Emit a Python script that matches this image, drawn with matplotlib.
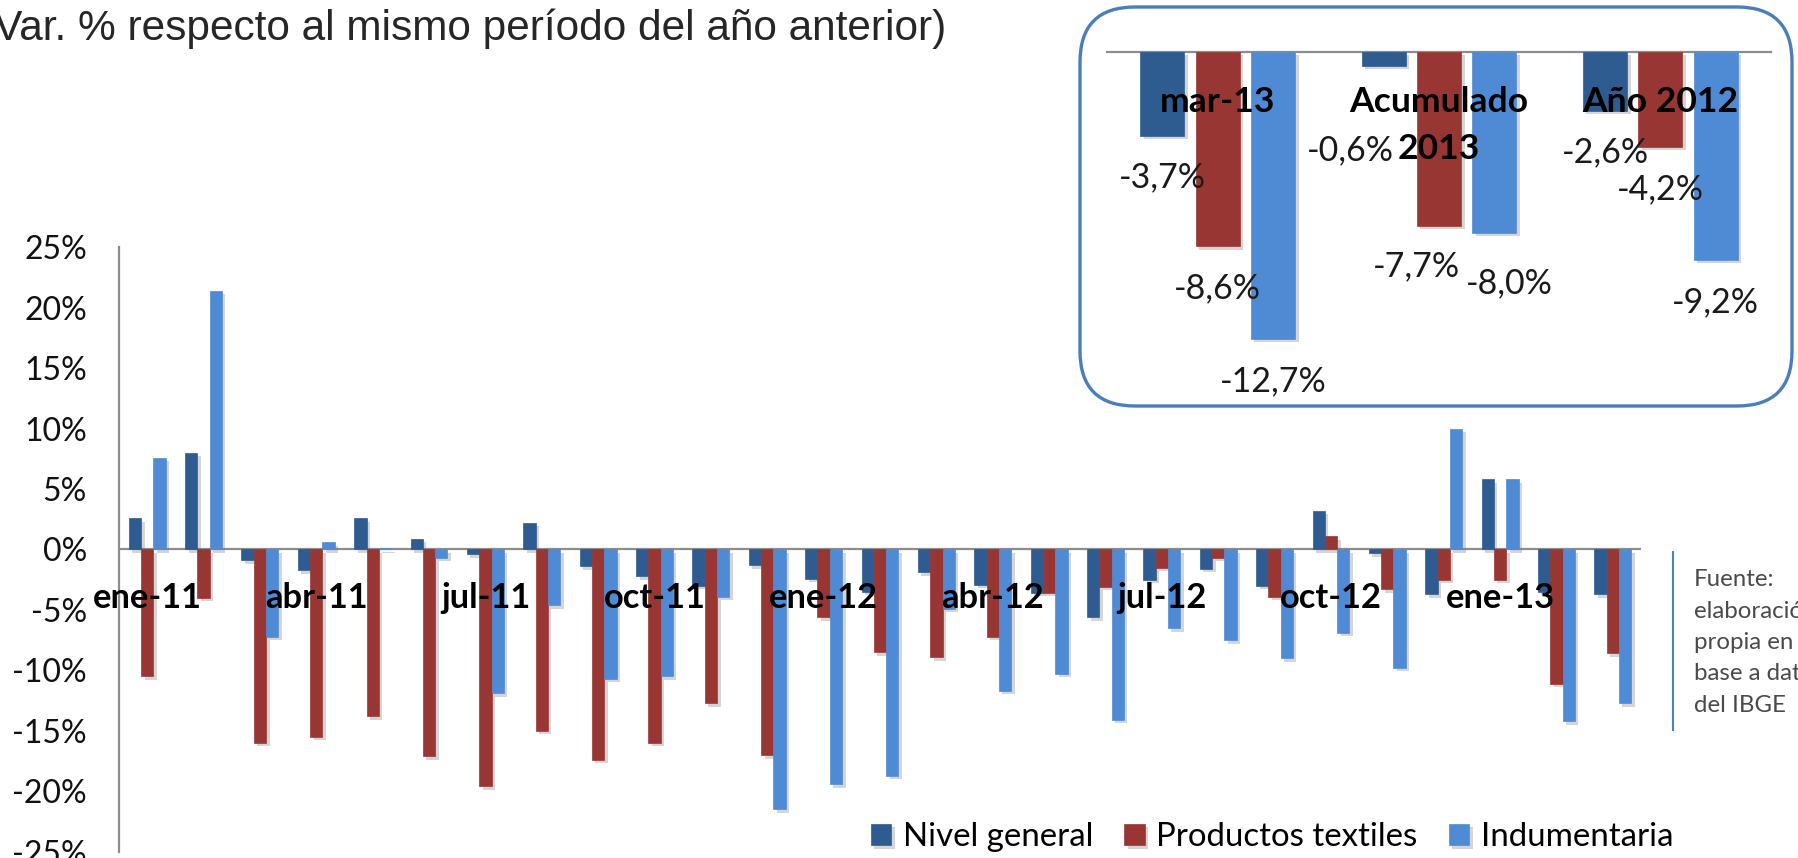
import matplotlib
matplotlib.use("Agg")
import matplotlib.pyplot as plt
from matplotlib.patches import FancyBboxPatch
from matplotlib.lines import Line2D
import matplotlib.patheffects as pe
import numpy as np

# ---------------- data ----------------
months = ["ene-11", "feb-11", "mar-11", "abr-11", "may-11", "jun-11", "jul-11",
          "ago-11", "sep-11", "oct-11", "nov-11", "dic-11", "ene-12", "feb-12",
          "mar-12", "abr-12", "may-12", "jun-12", "jul-12", "ago-12", "sep-12",
          "oct-12", "nov-12", "dic-12", "ene-13", "feb-13", "mar-13"]
nivel_general = [2.6, 8.0, -0.9, -1.7, 2.6, 0.9, -0.4, 2.2, -1.4, -2.2, -3.0, -1.3,
                 -2.4, -3.5, -1.9, -2.9, -3.6, -5.6, -2.5, -1.6, -3.0, 3.2, -0.3,
                 -3.7, 5.8, -3.5, -3.7]
productos_textiles = [-10.5, -4.0, -16.0, -15.5, -13.8, -17.1, -19.6, -15.0, -17.4,
                      -16.0, -12.7, -17.0, -5.6, -8.5, -8.9, -7.2, -3.6, -3.1, -1.5,
                      -0.7, -3.9, 1.1, -3.3, -2.5, -2.5, -11.1, -8.6]
indumentaria = [7.6, 21.4, -7.2, 0.6, 0.1, -0.7, -11.9, -4.6, -10.7, -10.5, -3.9,
                -21.5, -19.4, -18.7, -4.9, -11.7, -10.3, -14.1, -6.5, -7.5, -9.0,
                -6.9, -9.8, 10.0, 5.8, -14.2, -12.7]
series_names = ["Nivel general", "Productos textiles", "Indumentaria"]
yticks = [25, 20, 15, 10, 5, 0, -5, -10, -15, -20, -25]
label_every = 3

inset_categories = ["mar-13", "Acumulado\n2013", "Año 2012"]
inset_nivel = [-3.7, -0.6, -2.6]
inset_textiles = [-8.6, -7.7, -4.2]
inset_indumentaria = [-12.7, -8.0, -9.2]

title = "(Var. % respecto al mismo período del año anterior)"
source_lines = ["Fuente:", "elaboración", "propia en", "base a datos", "del IBGE"]

# ---------------- style ----------------
colors = ["#2E5B90", "#983634", "#4F8BD5"]
axis_grey = "#8C8C8C"
FONT = ["Lato", "DejaVu Sans"]
plt.rcParams["font.family"] = FONT

W, H = 1798, 858
fig = plt.figure(figsize=(W / 100, H / 100), dpi=100)
fig.patch.set_facecolor("white")

def pt(px):
    return px * 72.0 / 100.0

shadow = [pe.SimplePatchShadow(offset=(2.5, -2.5), shadow_rgbFace="#777777", alpha=0.3),
          pe.Normal()]

# ---------------- main chart ----------------
zero_px, per_pct = 549.5, 12.09
ax_top = zero_px - 25 * per_pct
ax_bot = zero_px + 25 * per_pct
ax = fig.add_axes([119 / W, 1 - ax_bot / H, 1522 / W, (ax_bot - ax_top) / H])
ax.set_xlim(-0.5, len(months) - 0.5)
ax.set_ylim(-25, 25)
ax.patch.set_visible(False)

x = np.arange(len(months))
bw = 0.218
handles = []
for i, (vals, c, name) in enumerate(zip([nivel_general, productos_textiles, indumentaria],
                                        colors, series_names)):
    bars = ax.bar(x + (i - 1) * bw, vals, bw, color=c, label=name, zorder=2,
                  edgecolor=c, linewidth=0.5)
    for b in bars:
        b.set_path_effects(shadow)
    handles.append(bars)

ax.axhline(0, color=axis_grey, lw=1.6, zorder=1.5)
for s in ["top", "right", "bottom"]:
    ax.spines[s].set_visible(False)
ax.spines["left"].set_color(axis_grey)
ax.spines["left"].set_linewidth(1.6)
ax.set_xticks([])
ax.set_yticks(yticks)
ax.set_yticklabels([f"{v}%" for v in yticks])
ax.tick_params(axis="y", length=0, pad=pt(32), labelsize=pt(32), labelcolor="#111111")

for k in range(0, len(months), label_every):
    ax.annotate(months[k], xy=(k, 0), xytext=(0, -(608 - zero_px)),
                textcoords="offset pixels", ha="center", va="baseline",
                fontsize=pt(34.5), fontweight="bold", color="black", zorder=6)

leg = fig.legend(handles=handles, labels=series_names, loc="center",
                 bbox_to_anchor=(1272 / W, 1 - 837 / H), ncol=3,
                 frameon=False, fontsize=pt(33), handlelength=0.62, handleheight=0.62,
                 handletextpad=0.35, columnspacing=0.95, borderpad=0, borderaxespad=0)

# ---------------- title ----------------
fig.text(946 / W, 1 - 40 / H, title, ha="right", va="baseline",
         fontsize=30.5, family=["Liberation Sans", "DejaVu Sans"], color="#262626")

# ---------------- inset ----------------
box = FancyBboxPatch((1080 / 100, (H - 406) / 100), (1792 - 1080) / 100, (406 - 7) / 100,
                     boxstyle="round,pad=0,rounding_size=0.55",
                     transform=fig.dpi_scale_trans, fc="white", ec="#4A7EBB",
                     lw=2.4, zorder=2)
fig.add_artist(box)

in_zero, in_pct = 52.0, 22.6
in_lo = -14.0
ax2 = fig.add_axes([1107 / W, 1 - (in_zero - in_lo * in_pct) / H, 664 / W,
                    (-in_lo * in_pct) / H])
ax2.set_zorder(5)
ax2.patch.set_visible(False)
ax2.axis("off")
ax2.set_xlim(-0.5, 2.5)
ax2.set_ylim(in_lo, 0)
ax2.axhline(0, color=axis_grey, lw=1.6, clip_on=False, zorder=1)

xi = np.arange(len(inset_categories))
ibw, ioff = 0.2, 0.25
label_nudges = {(1, 0): (-33, -82), (1, 1): (-23, -37), (1, 2): (15, -47)}
for i, (vals, c) in enumerate(zip([inset_nivel, inset_textiles, inset_indumentaria], colors)):
    bars = ax2.bar(xi + (i - 1) * ioff, vals, ibw, color=c, edgecolor=c, lw=0.5, zorder=2)
    for b in bars:
        b.set_path_effects(shadow)
    for j, v in enumerate(vals):
        dx, dy = label_nudges.get((j, i), (0, -39))
        txt = f"{v:.1f}%".replace(".", ",")
        ax2.annotate(txt, xy=(xi[j] + (i - 1) * ioff, v), xytext=(dx, dy),
                     textcoords="offset pixels", ha="center", va="center_baseline",
                     fontsize=pt(34), color="#1a1a1a", annotation_clip=False, zorder=6)

for j, lab in enumerate(inset_categories):
    for n, line in enumerate(lab.split("\n")):
        ax2.annotate(line, xy=(xi[j], 0), xytext=(0, -(112 - in_zero) - 47 * n),
                     textcoords="offset pixels", ha="center", va="baseline",
                     fontsize=pt(35.5), fontweight="bold", color="black",
                     annotation_clip=False, zorder=7)

# ---------------- source note ----------------
fig.add_artist(Line2D([1673 / W, 1673 / W], [1 - 552 / H, 1 - 730 / H],
                      color="#4F81BD", lw=1.5))
for n, line in enumerate(source_lines):
    fig.text(1694 / W, 1 - (578 + 31.3 * n) / H, line, ha="left", va="center_baseline",
             fontsize=pt(24), color="#4a4a4a")

fig.savefig("out.png", dpi=100, facecolor="white")
